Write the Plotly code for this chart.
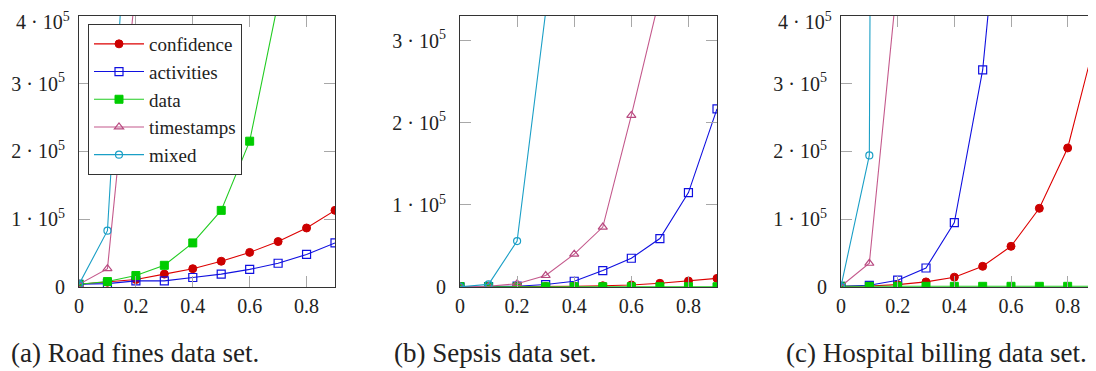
import plotly.graph_objects as go

# ---------------- data ----------------
x_vals = [0, 0.1, 0.2, 0.3, 0.4, 0.5, 0.6, 0.7, 0.8, 0.9]
series_names = ["confidence", "activities", "data", "timestamps", "mixed"]

# (a) Road fines
road_confidence = [4000, 7000, 11000, 19000, 27000, 38000, 51000, 67000, 87000, 113000]
road_activities = [4000, 5000, 9000, 9000, 14000, 19000, 26000, 35000, 48000, 65000]
road_data = [4000, 8000, 17000, 32000, 65000, 113000, 215000, 420000, 760000, 1300000]
road_timestamps = [4000, 27000, 445000, 950000, 1700000, 2600000, 3800000, 5200000, 7000000, 9100000]
road_mixed = [4000, 83000, 790000, 2000000, 4000000, 6500000, 9500000, 13000000, 17000000, 22000000]

# (b) Sepsis
sepsis_confidence = [300, 300, 400, 600, 1000, 1500, 2500, 4500, 7300, 10500]
sepsis_activities = [300, 600, 1000, 3000, 7000, 20000, 35000, 59000, 115000, 217000]
sepsis_data = [300, 300, 300, 300, 300, 300, 300, 300, 300, 300]
sepsis_timestamps = [300, 1000, 4000, 14000, 40000, 73000, 209000, 354000, 700000, 1200000]
sepsis_mixed = [300, 3200, 56000, 335000, 900000, 1800000, 3000000, 4500000, 6500000, 9000000]

# (c) Hospital billing
hosp_confidence = [1000, 1500, 3500, 7500, 14500, 30500, 60000, 116000, 205000, 368000]
hosp_activities = [1000, 2500, 10000, 28000, 95000, 320000, 750000, 1500000, 2600000, 4200000]
hosp_data = [1000, 1000, 1000, 1000, 1000, 1000, 1000, 1000, 1000, 1000]
hosp_timestamps = [1000, 35000, 457000, 1200000, 2400000, 4000000, 6000000, 8500000, 11500000, 15000000]
hosp_mixed = [1000, 194000, 9000000, 20000000, 35000000, 50000000, 70000000, 90000000, 110000000, 130000000]

captions = ["(a) Road fines data set.", "(b) Sepsis data set.", "(c) Hospital billing data set."]

x_tickvals = [0, 0.2, 0.4, 0.6, 0.8]
x_ticktext = ["0", "0.2", "0.4", "0.6", "0.8"]
y_tickvals_4 = [0, 100000, 200000, 300000, 400000]
y_ticktext_4 = ["0", "1 · 10<sup>5</sup>", "2 · 10<sup>5</sup>", "3 · 10<sup>5</sup>", "4 · 10<sup>5</sup>"]
y_tickvals_3 = [0, 100000, 200000, 300000]
y_ticktext_3 = ["0", "1 · 10<sup>5</sup>", "2 · 10<sup>5</sup>", "3 · 10<sup>5</sup>"]

panels = [
    [road_confidence, road_activities, road_data, road_timestamps, road_mixed],
    [sepsis_confidence, sepsis_activities, sepsis_data, sepsis_timestamps, sepsis_mixed],
    [hosp_confidence, hosp_activities, hosp_data, hosp_timestamps, hosp_mixed],
]
y_max = [400000, 330500, 400000]

# ---------------- styles ----------------
FONT = "Liberation Serif"
styles = {
    "confidence": dict(line=dict(color="#dd0000", width=1.1),
                       marker=dict(symbol="circle", size=8, color="#cc0000",
                                   line=dict(color="#cc0000", width=1))),
    "activities": dict(line=dict(color="#1010e0", width=1.1),
                       marker=dict(symbol="square-open", size=8, color="#1010e0",
                                   line=dict(color="#1010e0", width=1.2))),
    "data": dict(line=dict(color="#22cc22", width=1.1),
                 marker=dict(symbol="square", size=8, color="#00cc00",
                             line=dict(color="#00cc00", width=1))),
    "timestamps": dict(line=dict(color="#c4598c", width=1.1),
                       marker=dict(symbol="triangle-up-open", size=8, color="#b84a80",
                                   line=dict(color="#b84a80", width=1.2))),
    "mixed": dict(line=dict(color="#1a9fc6", width=1.1),
                  marker=dict(symbol="circle-open", size=7, color="#1a9fc6",
                              line=dict(color="#1a9fc6", width=1.2))),
}

# page body adds an 8px offset; positions below are screen pixels minus 8
OFF = 8
W, H = 1096 - OFF, 371 - OFF


def px(sx):
    return (sx - OFF) / W


def py(sy):
    return 1 - (sy - OFF) / H


x_domains = [[px(79), px(335)], [px(460), px(717)], [px(841), 1.0]]
y_domain = [py(287), py(15.7)]

fig = go.Figure()
for p, series in enumerate(panels):
    xa = "x" if p == 0 else f"x{p+1}"
    ya = "y" if p == 0 else f"y{p+1}"
    for name, vals in zip(series_names, series):
        st = styles[name]
        fig.add_trace(go.Scatter(
            x=x_vals, y=vals, mode="lines+markers", name=name,
            line=st["line"], marker=st["marker"],
            showlegend=(p == 0), xaxis=xa, yaxis=ya, cliponaxis=True,
        ))

TICKFONT = dict(family=FONT, size=20, color="#222222")
axis_common = dict(
    showgrid=False, zeroline=False, showline=True, linecolor="#333333", linewidth=1.2,
    ticks="inside", ticklen=11, tickwidth=1.3, tickcolor="#a8a8a8", automargin=False,
    tickfont=TICKFONT, ticklabeloverflow="allow",
)

layout = dict(
    template="none",
    width=W, height=H,
    margin=dict(l=0, r=0, t=0, b=0, pad=0),
    paper_bgcolor="white", plot_bgcolor="white",
    font=dict(family=FONT, size=20, color="#222222"),
    legend=dict(x=px(88), y=py(24), xanchor="left", yanchor="top",
                bgcolor="white", bordercolor="#333333", borderwidth=1,
                font=dict(family=FONT, size=19, color="#222222"),
                tracegroupgap=0, itemwidth=50),
)
annotations = []
for p in range(3):
    key_x = "xaxis" if p == 0 else f"xaxis{p+1}"
    key_y = "yaxis" if p == 0 else f"yaxis{p+1}"
    anchor_x = "y" if p == 0 else f"y{p+1}"
    anchor_y = "x" if p == 0 else f"x{p+1}"
    layout[key_x] = dict(axis_common, domain=x_domains[p], anchor=anchor_x,
                         range=[0, 0.9], tickvals=x_tickvals, ticktext=x_ticktext,
                         mirror="ticks", ticklabelstandoff=1)
    if p == 1:
        tv, tt = y_tickvals_3, list(y_ticktext_3)
    else:
        tv, tt = y_tickvals_4, list(y_ticktext_4)
        # the top label would stick out above the page: draw it just inside instead
        top_label = tt[-1]
        tt[-1] = ""
        annotations.append(dict(x=x_domains[p][0], y=1.0, xref="paper", yref="paper",
                                text=top_label, showarrow=False, xanchor="right",
                                yanchor="top", xshift=-7, yshift=1, font=TICKFONT))
    layout[key_y] = dict(axis_common, domain=y_domain, anchor=anchor_y,
                         range=[0, y_max[p]], tickvals=tv, ticktext=tt,
                         mirror=("ticks" if p < 2 else False), ticklabelstandoff=9)

caption_x = [px(135), px(495), px(936)]
for cx, txt in zip(caption_x, captions):
    annotations.append(dict(x=cx, y=py(353), xref="paper", yref="paper",
                            text=txt, showarrow=False, xanchor="center", yanchor="middle",
                            font=dict(family=FONT, size=27, color="#222222")))
layout["annotations"] = annotations

fig.update_layout(**layout)
fig.write_html("out.html")
